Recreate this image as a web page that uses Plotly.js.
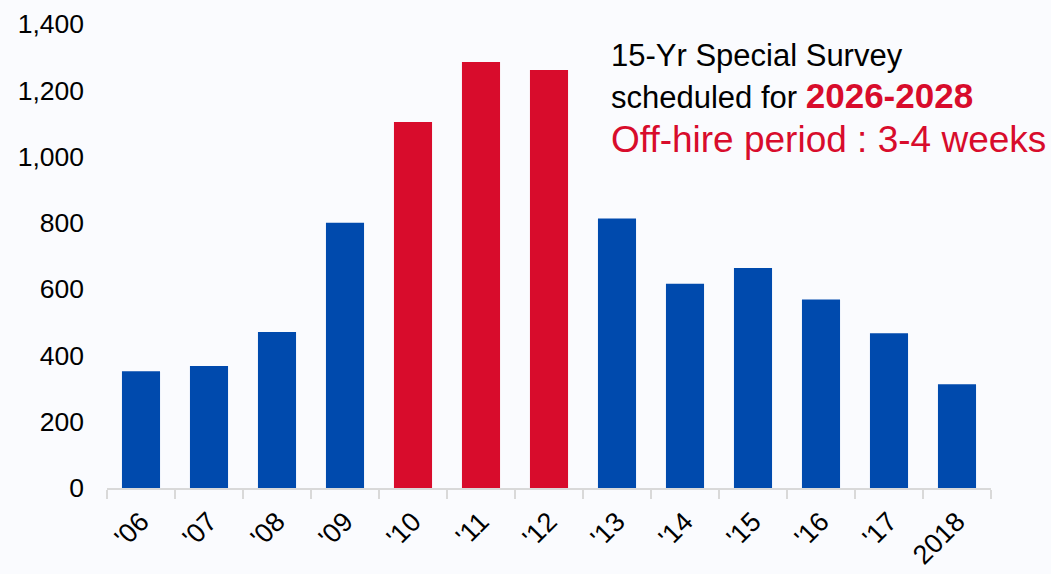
<!DOCTYPE html>
<html>
<head>
<meta charset="utf-8">
<script src="https://cdn.plot.ly/plotly-3.0.1.min.js"></script>
<style>
  html, body { margin: 0; padding: 0; background: #fafbfe; }
  #chart { width: 1051px; height: 574px; }
</style>
</head>
<body>
<div id="chart"></div>
<script>
// Build year of the ships (x categories) and number of vessels per build year
const years = ["'06", "'07", "'08", "'09", "'10", "'11", "'12", "'13", "'14", "'15", "'16", "'17", "2018"];
const vessels = [352, 368, 471, 800, 1104, 1285, 1261, 813, 616, 664, 569, 467, 313];
// Build years whose 15-year special survey falls in 2026-2028
const surveyYears = ["'10", "'11", "'12"];
const yTicks = [0, 200, 400, 600, 800, 1000, 1200, 1400];

const BLUE = '#004aad';
const RED = '#d80c2c';
const FONT = 'Arial, "Liberation Sans", sans-serif';

const barColors = years.map(y => surveyYears.includes(y) ? RED : BLUE);

const trace = {
  type: 'bar',
  x: years,
  y: vessels,
  marker: { color: barColors, line: { width: 0 } },
  hoverinfo: 'x+y'
};

const layout = {
  width: 1051,
  height: 574,
  autosize: false,
  margin: { l: 107, r: 60, t: 24, b: 86, pad: 0 },
  paper_bgcolor: '#fafbfe',
  plot_bgcolor: '#fafbfe',
  bargap: 0.44,
  showlegend: false,
  font: { family: FONT, color: '#000000' },
  xaxis: {
    type: 'category',
    showline: true,
    linecolor: '#d9d9d9',
    linewidth: 2,
    ticks: 'outside',
    tickson: 'boundaries',
    ticklen: 9,
    tickwidth: 2,
    tickcolor: '#d9d9d9',
    tickangle: -45,
    tickfont: { family: FONT, size: 27, color: '#000000' },
    ticklabelstandoff: 5,
    showgrid: false,
    zeroline: false,
    fixedrange: true
  },
  yaxis: {
    range: [0, 1400],
    tickvals: yTicks,
    tickformat: ',d',
    showline: false,
    showgrid: false,
    zeroline: false,
    ticks: '',
    ticklabelstandoff: 22,
    tickfont: { family: FONT, size: 26.5, color: '#000000' },
    fixedrange: true
  },
  annotations: [
    {
      xref: 'paper', yref: 'paper', x: 0.568, y: 0.933,
      xanchor: 'left', yanchor: 'middle', showarrow: false,
      text: '15-Yr Special Survey',
      font: { family: FONT, size: 31, color: '#000000' }
    },
    {
      xref: 'paper', yref: 'paper', x: 0.568, y: 0.845,
      xanchor: 'left', yanchor: 'middle', showarrow: false,
      text: 'scheduled for <b><span style="color:' + RED + ';font-size:35px">2026-2028</span></b>',
      font: { family: FONT, size: 31, color: '#000000' }
    },
    {
      xref: 'paper', yref: 'paper', x: 0.568, y: 0.751,
      xanchor: 'left', yanchor: 'middle', showarrow: false,
      text: 'Off-hire period : 3-4 weeks',
      font: { family: FONT, size: 37, color: RED }
    }
  ]
};

Plotly.newPlot('chart', [trace], layout, { displayModeBar: false, staticPlot: true });
</script>
</body>
</html>
